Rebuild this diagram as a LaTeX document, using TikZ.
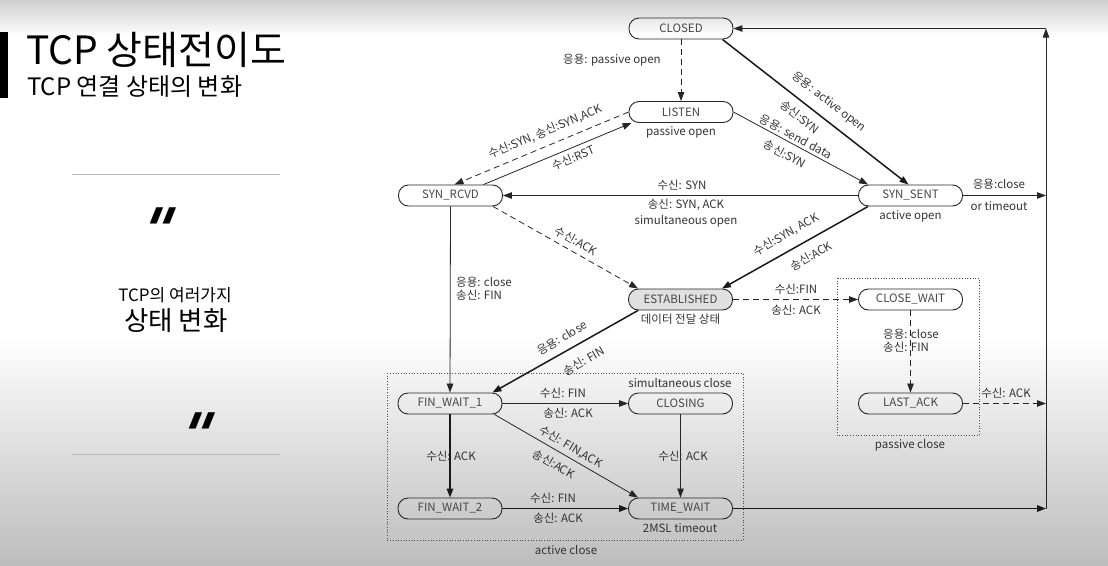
\documentclass[tikz,border=0pt]{standalone}
\usepackage{fontspec}
\setmainfont{Noto Sans CJK KR}
\newfontfamily\quotefont{DejaVu Sans}
\usetikzlibrary{arrows.meta,calc}
\begin{document}
\begin{tikzpicture}[x=1pt,y=-1pt,
  state/.style={draw=black!85, line width=0.9pt, rounded corners=10pt, minimum width=104pt, minimum height=21pt, inner sep=0pt, text=black!72, font=\fontsize{11.5}{13}\selectfont},
  lbl/.style={text=black!80, font=\fontsize{11.5}{13}\selectfont, inner sep=0pt},
  quot/.style={inner sep=0pt, transform shape, xslant=0.4, font=\quotefont\bfseries\fontsize{60}{60}\selectfont},
  tip/.style={-{Triangle[length=9pt,width=6.5pt]}},
  thinln/.style={draw=black!85, line width=0.8pt, tip},
  thickln/.style={draw=black!90, line width=1.5pt, tip},
  dashln/.style={draw=black!85, line width=0.8pt, dash pattern=on 6pt off 4pt, tip},
  grpbox/.style={draw=black!70, line width=0.7pt, dotted}
]
\useasboundingbox (0,0) rectangle (1108,565);
% background
\shade[top color=gray!38, bottom color=white] (0,0) rectangle (1108,36);
\fill[white] (0,36) rectangle (1108,335);
\shade[top color=white, bottom color=gray!52] (0,335) rectangle (1108,565);

% left panel
\fill[black] (0,32) rectangle (8,98);
\node[anchor=base west, inner sep=0pt, font=\fontsize{39}{42}\selectfont] (title) at (26,64) {TCP 상태전이도};
\node[anchor=base west, inner sep=0pt, font=\fontsize{24}{27}\selectfont] (subtitle) at (27,95) {TCP 연결 상태의 변화};
\draw[gray!55, line width=1pt] (72,174) -- (280,174);
\draw[gray!55, line width=1pt] (72,454) -- (280,454);
\node[quot] (q1) at (158,230) {"};
\node[quot] (q2) at (197,435) {"};
\node[inner sep=0pt, font=\fontsize{17}{19}\selectfont] (sub1) at (175,295) {TCP의 여러가지};
\node[inner sep=0pt, font=\fontsize{26.5}{28}\selectfont] (sub2) at (176,321) {상태 변화};

% group boxes
\draw[grpbox] (387,373) rectangle (743,540);
\draw[grpbox] (837,278) rectangle (979,435);

% states
\node[state] (closed) at (681,28.5) {CLOSED};
\node[state] (listen) at (681,112) {LISTEN};
\node[state] (synrcvd) at (450.5,195.5) {SYN\_RCVD};
\node[state] (synsent) at (910.5,195.5) {SYN\_SENT};
\node[state, fill=black!12] (estab) at (680.5,299.5) {ESTABLISHED};
\node[state] (closewait) at (910.5,299.5) {CLOSE\_WAIT};
\node[state] (lastack) at (910.5,403.5) {LAST\_ACK};
\node[state] (fw1) at (450,403.5) {FIN\_WAIT\_1};
\node[state] (closing) at (680.5,403.5) {CLOSING};
\node[state] (fw2) at (450,508.5) {FIN\_WAIT\_2};
\node[state] (timewait) at (680.5,508.5) {TIME\_WAIT};

\coordinate (rtop) at (1046,28.5);
\coordinate (rbot) at (1046,508.5);
\coordinate (rsyn) at (1046,195.5);
\coordinate (rlast) at (1046,403.5);

% connectors
\draw[dashln] (closed.south) -- (listen.north);
\draw[thickln] ($(closed.south east)+(-11,0)$) -- ($(synsent.north)+(-2,0)$);
\draw[thinln] (listen.east) -- ($(synsent.north west)+(10,0)$);
\draw[dashln] (listen.west) -- ($(synrcvd.north)+(4,0)$);
\draw[thinln] ($(synrcvd.north)+(33,0)$) -- ($(listen.south west)+(3,0)$);
\draw[thinln] (synsent.west) -- (synrcvd.east);
\draw[dashln] ($(synrcvd.south east)+(-10,0)$) -- ($(estab.north west)+(10,0)$);
\draw[thickln] ($(synsent.south west)+(10,0)$) -- ($(estab.north east)+(-11,0)$);
\draw[dashln] (estab.east) -- (closewait.west);
\draw[dashln] (closewait.south) -- (lastack.north);
\draw[dashln] (lastack.east) -- (rlast);
\draw[thickln] ($(estab.south west)+(10,0)$) -- ($(fw1.north east)+(-10,0)$);
\draw[thinln] (synrcvd.south) -- (fw1.north);
\draw[thinln] (fw1.east) -- (closing.west);
\draw[thickln] (fw1.south) -- (fw2.north);
\draw[thinln] ($(fw1.south east)+(-8,0)$) -- ($(timewait.north west)+(10,0)$);
\draw[thinln] (closing.south) -- (timewait.north);
\draw[thickln] (fw2.east) -- (timewait.west);
\draw[thickln] (timewait.east) -- (rbot);
\draw[thinln] (synsent.east) -- (rsyn);
\draw[thinln] (rbot) -- (rtop);
\draw[thinln] (rtop) -- (closed.east);

% labels
\node[lbl] (l1) at (612,60) {응용: passive open};
\node[lbl] (l2) at (681,132) {passive open};
\node[lbl, rotate=-37.8] (l3) at (829,102) {응용: active open};
\node[lbl, rotate=-37.8] (l4) at (800,117) {송신:SYN};
\node[lbl, rotate=-28.4] (l5) at (796,137) {응용: send data};
\node[lbl, rotate=-28.4] (l6) at (785,154) {송신:SYN};
\node[lbl, rotate=22.8] (l7) at (545,132) {수신:SYN, 송신:SYN,ACK};
\node[lbl, rotate=22.6] (l8) at (573,158) {수신:RST};
\node[lbl] (l9) at (682,185) {수신: SYN};
\node[lbl] (l10) at (686,205) {송신: SYN, ACK};
\node[lbl] (l11) at (686,221) {simultaneous open};
\node[lbl] (l12) at (910.5,216) {active open};
\node[lbl] (l13) at (999,184) {응용:close};
\node[lbl] (l14) at (999,206) {or timeout};
\node[lbl, rotate=-29.8] (l15) at (576,241) {수신:ACK};
\node[lbl, rotate=29.6] (l16) at (786,235) {수신:SYN, ACK};
\node[lbl, rotate=29.6] (l17) at (811,256) {송신:ACK};
\node[lbl] (l18) at (680.5,319) {데이터 전달 상태};
\node[lbl] (l19) at (796,289) {수신:FIN};
\node[lbl] (l20) at (796,310) {송신: ACK};
\node[lbl, anchor=west, align=left] (l21) at (883,341) {응용: close\\송신: FIN};
\node[lbl] (l22) at (1006,393) {수신: ACK};
\node[lbl] (l23) at (910,445) {passive close};
\node[lbl, anchor=west, align=left] (l24) at (456,289) {응용: close\\송신: FIN};
\node[lbl, rotate=30] (l25) at (562,338) {응용: close};
\node[lbl, rotate=30] (l26) at (584,361) {송신: FIN};
\node[lbl] (l27) at (680,383) {simultaneous close};
\node[lbl] (l28) at (563,393) {수신: FIN};
\node[lbl] (l29) at (568,413) {송신: ACK};
\node[lbl] (l30) at (451,456) {수신: ACK};
\node[lbl, rotate=-30.4] (l31) at (571,447) {수신: FIN,ACK};
\node[lbl, rotate=-30.4] (l32) at (554,464) {송신:ACK};
\node[lbl] (l33) at (683,456) {수신: ACK};
\node[lbl] (l34) at (553,498) {수신: FIN};
\node[lbl] (l35) at (558,518) {송신: ACK};
\node[lbl] (l36) at (680,528) {2MSL timeout};
\node[lbl] (l37) at (566,550) {active close};
\end{tikzpicture}
\end{document}
